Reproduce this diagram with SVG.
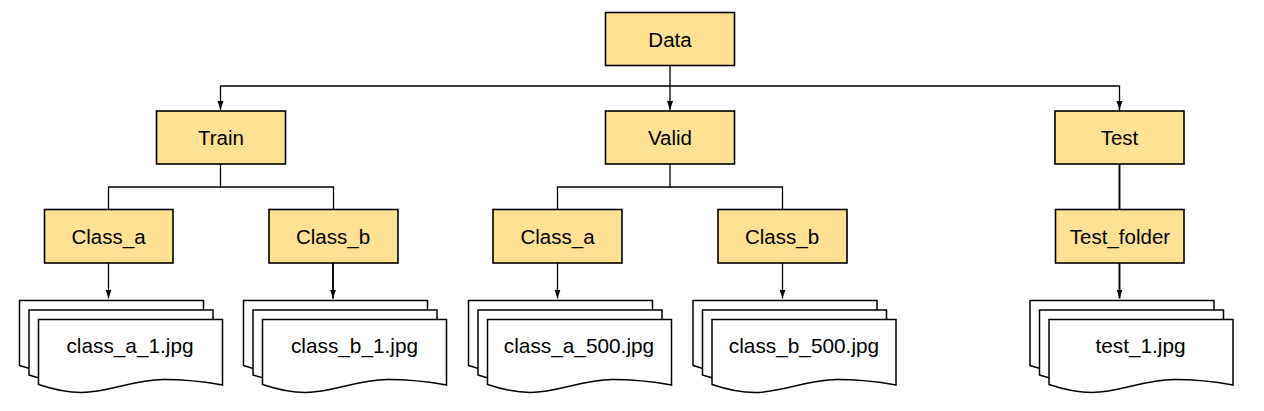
<svg xmlns="http://www.w3.org/2000/svg" xmlns:xlink="http://www.w3.org/1999/xlink" width="1264" height="411" viewBox="0 0 1264 411">
<style>
text{font-family:"Liberation Sans",Arial,sans-serif;font-size:20.5px;fill:#000;text-anchor:middle}
text.f{font-size:20.8px}
.box{fill:#ffe194;stroke:#000;stroke-width:1.6}
.doc{fill:#fff;stroke:#000;stroke-width:1.5;stroke-linejoin:miter}
.c{fill:none;stroke:#000;stroke-width:1.3}
.t{stroke-width:1.9}
</style>
<defs>
<marker id="arrow" markerUnits="userSpaceOnUse" markerWidth="10" markerHeight="8" refX="9" refY="4" orient="auto"><path d="M0 1 L9 4 L0 7 Z" fill="#000"/></marker>
<path id="sheet" d="M0 0 H184 V65.500 C165 62 145 60 125 60 C95 60 70 73 43 73 C28 73 15 70 0 65 Z"/>
<g id="stack">
<use xlink:href="#sheet" href="#sheet" class="doc" x="0" y="0"/>
<use xlink:href="#sheet" href="#sheet" class="doc" x="9.500" y="9.500"/>
<use xlink:href="#sheet" href="#sheet" class="doc" x="19" y="19"/>
</g>
</defs>
<g id="connectors">
<path class="c" d="M670 65.500 V110" marker-end="url(#arrow)"/>
<path class="c" d="M670 86 H220.500 V110" marker-end="url(#arrow)"/>
<path class="c" d="M670 86 H1119.500 V110" marker-end="url(#arrow)"/>
<path class="c" d="M220.500 164 V187 H108.500 V209"/>
<path class="c" d="M220.500 187 H333.500 V209"/>
<path class="c" d="M670 164 V187 H557.500 V209"/>
<path class="c" d="M670 187 H782.500 V209"/>
<path class="c t" d="M1119.500 164 V209"/>
<path class="c" d="M108.500 263 V298.500" marker-end="url(#arrow)"/>
<path class="c t" d="M333 263 V298.500" marker-end="url(#arrow)"/>
<path class="c" d="M557.500 263 V298.500" marker-end="url(#arrow)"/>
<path class="c" d="M782.500 263 V298.500" marker-end="url(#arrow)"/>
<path class="c t" d="M1119.500 263 V298.500" marker-end="url(#arrow)"/>
</g>
<g id="data"><rect class="box" x="605.500" y="12.500" width="129" height="53"/><text x="670" y="47">Data</text></g>
<g id="train"><rect class="box" x="156.500" y="111" width="129" height="53"/><text x="221" y="145">Train</text></g>
<g id="valid"><rect class="box" x="605.500" y="111" width="129" height="53"/><text x="670" y="145">Valid</text></g>
<g id="test"><rect class="box" x="1055" y="111" width="129" height="53"/><text x="1119.500" y="145">Test</text></g>
<g id="train-class-a"><rect class="box" x="44.500" y="209.500" width="128.500" height="53.500"/><text x="108.500" y="244">Class_a</text></g>
<g id="train-class-b"><rect class="box" x="269" y="209.500" width="129" height="53.500"/><text x="333" y="244">Class_b</text></g>
<g id="valid-class-a"><rect class="box" x="493" y="209.500" width="129" height="53.500"/><text x="557.500" y="244">Class_a</text></g>
<g id="valid-class-b"><rect class="box" x="718" y="209.500" width="129" height="53.500"/><text x="782" y="244">Class_b</text></g>
<g id="test-folder"><rect class="box" x="1055.500" y="209.500" width="128.500" height="53.500"/><text x="1120" y="244">Test_folder</text></g>
<g id="files-train-a"><use xlink:href="#stack" href="#stack" x="19.500" y="300.500"/><text class="f" x="130" y="353">class_a_1.jpg</text></g>
<g id="files-train-b"><use xlink:href="#stack" href="#stack" x="243.500" y="300.500"/><text class="f" x="354.500" y="353">class_b_1.jpg</text></g>
<g id="files-valid-a"><use xlink:href="#stack" href="#stack" x="468.500" y="300.500"/><text class="f" x="579" y="353">class_a_500.jpg</text></g>
<g id="files-valid-b"><use xlink:href="#stack" href="#stack" x="693" y="300.500"/><text class="f" x="804" y="353">class_b_500.jpg</text></g>
<g id="files-test"><use xlink:href="#stack" href="#stack" x="1030" y="300.500"/><text class="f" x="1140.500" y="353">test_1.jpg</text></g>
</svg>
